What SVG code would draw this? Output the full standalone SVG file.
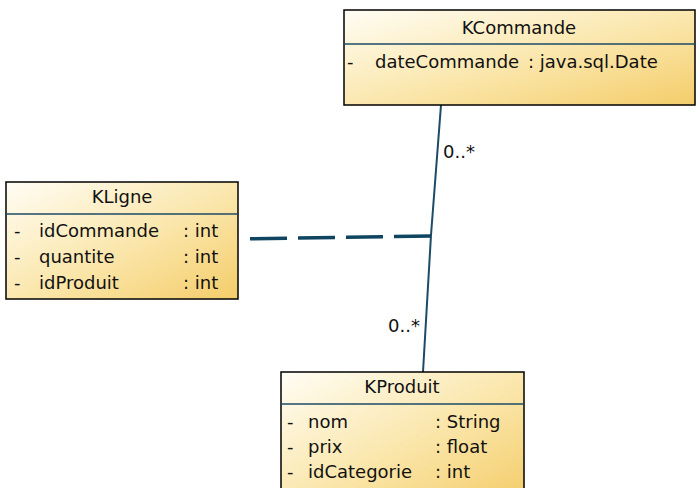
<svg xmlns="http://www.w3.org/2000/svg" width="696" height="488" viewBox="0 0 696 488">
<defs>
<linearGradient id="g" x1="0" y1="0" x2="1" y2="1">
<stop offset="0" stop-color="#fffdf5"/>
<stop offset="0.5" stop-color="#fbe8b0"/>
<stop offset="1" stop-color="#f4cd6a"/>
</linearGradient>
</defs>
<style>
.box{fill:url(#g);stroke:#000;stroke-width:1.5}
.sep{stroke:#1d4a66;stroke-width:1.5}
text{font-family:"DejaVu Sans",Verdana,sans-serif;font-size:18px;fill:#111}
.t{text-anchor:middle}
.ln{stroke:#1d4a66;stroke-width:2;fill:none}
.dash{stroke:#0f4560;stroke-width:3.5;fill:none;stroke-dasharray:37 11}
</style>
<g id="connectors">
<polyline class="ln" points="441,105 431,235 423,372"/>
<path class="dash" d="M431,236 L240,239"/>
<text x="443" y="158">0..*</text>
<text x="388" y="332">0..*</text>
</g>
<g id="KCommande">
<rect class="box" x="344" y="10" width="351" height="95"/>
<line class="sep" x1="344" y1="44" x2="695" y2="44"/>
<text class="t" x="519" y="34">KCommande</text>
<text x="347" y="68">-</text>
<text x="375" y="68">dateCommande</text>
<text x="528" y="68">: java.sql.Date</text>
</g>
<g id="KLigne">
<rect class="box" x="6" y="182" width="232" height="117"/>
<line class="sep" x1="6" y1="214" x2="238" y2="214"/>
<text class="t" x="122" y="203">KLigne</text>
<text x="14" y="237">-</text>
<text x="39" y="237">idCommande</text>
<text x="183" y="237">: int</text>
<text x="14" y="263">-</text>
<text x="39" y="263">quantite</text>
<text x="183" y="263">: int</text>
<text x="14" y="289">-</text>
<text x="39" y="289">idProduit</text>
<text x="183" y="289">: int</text>
</g>
<g id="KProduit">
<rect class="box" x="281" y="372" width="243" height="130"/>
<line class="sep" x1="281" y1="404" x2="524" y2="404"/>
<text class="t" x="402" y="393">KProduit</text>
<text x="287" y="428">-</text>
<text x="308" y="428">nom</text>
<text x="435" y="428">: String</text>
<text x="287" y="453">-</text>
<text x="308" y="453">prix</text>
<text x="435" y="453">: float</text>
<text x="287" y="478">-</text>
<text x="308" y="478">idCategorie</text>
<text x="435" y="478">: int</text>
</g>
</svg>
